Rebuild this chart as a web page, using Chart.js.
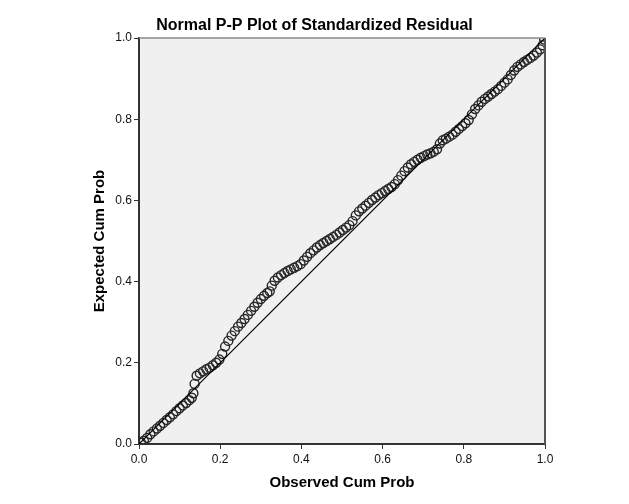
<!DOCTYPE html>
<html>
<head>
<meta charset="utf-8">
<script src="https://cdn.jsdelivr.net/npm/chart.js@4.4.1/dist/chart.umd.min.js"></script>
<style>
  html, body { margin: 0; padding: 0; background: #fff; }
  canvas { display: block; }
</style>
</head>
<body>
<canvas id="ppChart" width="629" height="504"></canvas>
<script>
// observed / expected cumulative probabilities
var observed = [0.005, 0.012, 0.02, 0.028, 0.036, 0.044, 0.052, 0.06, 0.068, 0.076,
    0.084, 0.092, 0.1, 0.108, 0.116, 0.124, 0.13, 0.134, 0.137, 0.142,
    0.15, 0.158, 0.166, 0.174, 0.182, 0.19, 0.198, 0.205, 0.212, 0.22,
    0.228, 0.236, 0.244, 0.252, 0.26, 0.268, 0.276, 0.284, 0.292, 0.3,
    0.308, 0.316, 0.322, 0.327, 0.334, 0.342, 0.35, 0.358, 0.366, 0.374,
    0.382, 0.39, 0.398, 0.406, 0.414, 0.422, 0.43, 0.438, 0.446, 0.454,
    0.462, 0.47, 0.478, 0.486, 0.494, 0.502, 0.51, 0.518, 0.526, 0.534,
    0.542, 0.55, 0.558, 0.566, 0.574, 0.582, 0.59, 0.598, 0.606, 0.614,
    0.622, 0.63, 0.638, 0.646, 0.654, 0.662, 0.67, 0.678, 0.686, 0.694,
    0.702, 0.71, 0.718, 0.726, 0.734, 0.741, 0.748, 0.756, 0.764, 0.772,
    0.78, 0.788, 0.796, 0.804, 0.812, 0.82, 0.828, 0.836, 0.844, 0.852,
    0.86, 0.868, 0.876, 0.884, 0.892, 0.9, 0.908, 0.916, 0.924, 0.932,
    0.94, 0.948, 0.956, 0.964, 0.972, 0.98, 0.988, 0.994, 0.998];
var expected = [0.003, 0.008, 0.015, 0.024, 0.031, 0.038, 0.045, 0.052, 0.059, 0.066,
    0.073, 0.081, 0.088, 0.095, 0.101, 0.108, 0.114, 0.125, 0.148, 0.168,
    0.174, 0.179, 0.184, 0.188, 0.194, 0.2, 0.208, 0.222, 0.24, 0.254,
    0.267, 0.278, 0.289, 0.298, 0.308, 0.318, 0.328, 0.338, 0.348, 0.357,
    0.365, 0.372, 0.376, 0.39, 0.402, 0.41, 0.416, 0.421, 0.426, 0.43,
    0.434, 0.438, 0.443, 0.452, 0.461, 0.47, 0.477, 0.484, 0.49, 0.495,
    0.5, 0.505, 0.51, 0.515, 0.521, 0.527, 0.533, 0.539, 0.549, 0.563,
    0.573, 0.58, 0.587, 0.594, 0.601, 0.607, 0.613, 0.618, 0.623, 0.628,
    0.633, 0.64, 0.65, 0.661, 0.672, 0.681, 0.689, 0.695, 0.7, 0.705,
    0.709, 0.713, 0.716, 0.72, 0.726, 0.74, 0.748, 0.752, 0.757, 0.762,
    0.769, 0.776, 0.783, 0.79, 0.798, 0.812, 0.825, 0.834, 0.843, 0.85,
    0.856, 0.862, 0.868, 0.874, 0.882, 0.89, 0.898, 0.909, 0.92, 0.929,
    0.935, 0.941, 0.946, 0.951, 0.957, 0.964, 0.972, 0.982, 0.996];
var refLine = [0, 1];
var tickValues = [0, 0.2, 0.4, 0.6, 0.8, 1.0];

var fontName = "'Liberation Sans', Arial, sans-serif";

var points = observed.map(function (x, i) {
    return { x: x, y: expected[i] };
});

var plotFrame = {
    id: "plotFrame",
    beforeDraw: function (chart) {
        var c = chart.ctx;
        var a = chart.chartArea;
        c.save();
        c.fillStyle = "#ffffff";
        c.fillRect(0, 0, chart.width, chart.height);
        c.fillStyle = "#f0f0f0";
        c.fillRect(a.left, a.top, a.right - a.left, a.bottom - a.top);
        c.restore();
    },
    afterDatasetsDraw: function (chart) {
        var c = chart.ctx;
        var a = chart.chartArea;
        c.save();
        c.strokeStyle = "#8a8a8a";
        c.lineWidth = 1.5;
        c.beginPath();
        c.moveTo(a.left, a.top);
        c.lineTo(a.right, a.top);
        c.stroke();
        c.strokeStyle = "#555555";
        c.lineWidth = 2;
        c.beginPath();
        c.moveTo(a.right, a.top);
        c.lineTo(a.right, a.bottom);
        c.stroke();
        c.restore();
    }
};

function tickLabel(value) {
    return Number(value).toFixed(1);
}

var ctx = document.getElementById("ppChart").getContext("2d");
var myChart = new Chart(ctx, {
    type: "scatter",
    data: {
        datasets: [
            {
                type: "line",
                data: refLine.map(function (v) { return { x: v, y: v }; }),
                borderColor: "#000000",
                borderWidth: 1.2,
                pointRadius: 0,
                fill: false,
                order: 0
            },
            {
                data: points,
                pointStyle: "circle",
                pointRadius: 4.5,
                borderColor: "#262626",
                borderWidth: 1.4,
                backgroundColor: "rgba(0,0,0,0)",
                order: 1
            }
        ]
    },
    options: {
        responsive: false,
        animation: false,
        layout: {
            padding: { left: 84, right: 84, top: 0, bottom: 0 }
        },
        plugins: {
            legend: { display: false },
            tooltip: { enabled: false },
            title: {
                display: true,
                text: "Normal P-P Plot of Standardized Residual",
                color: "#000000",
                font: { family: fontName, size: 16, weight: "bold" },
                padding: { top: 15.5, bottom: 3.3 }
            }
        },
        scales: {
            x: {
                type: "linear",
                min: 0,
                max: 1,
                afterBuildTicks: function (scale) {
                    scale.ticks = tickValues.map(function (v) { return { value: v }; });
                },
                afterFit: function (scale) {
                    scale.height = 60;
                },
                ticks: {
                    callback: tickLabel,
                    color: "#111111",
                    padding: 3,
                    maxRotation: 0,
                    font: { family: fontName, size: 12 }
                },
                grid: {
                    drawOnChartArea: false,
                    drawTicks: true,
                    tickLength: 5,
                    color: "#333333"
                },
                border: { display: true, color: "#333333", width: 2 },
                title: {
                    display: true,
                    text: "Observed Cum Prob",
                    color: "#000000",
                    font: { family: fontName, size: 15, weight: "bold" },
                    padding: { top: 4, bottom: 12.5 }
                }
            },
            y: {
                type: "linear",
                min: 0,
                max: 1,
                afterBuildTicks: function (scale) {
                    scale.ticks = tickValues.map(function (v) { return { value: v }; });
                },
                afterFit: function (scale) {
                    scale.width = 55;
                },
                ticks: {
                    callback: tickLabel,
                    color: "#111111",
                    padding: 2,
                    font: { family: fontName, size: 12 }
                },
                grid: {
                    drawOnChartArea: false,
                    drawTicks: true,
                    tickLength: 5,
                    color: "#333333"
                },
                border: { display: true, color: "#333333", width: 2 },
                title: {
                    display: true,
                    text: "Expected Cum Prob",
                    color: "#000000",
                    font: { family: fontName, size: 15, weight: "bold" },
                    padding: { top: 7, bottom: 4 }
                }
            }
        }
    },
    plugins: [plotFrame]
});
</script>
</body>
</html>
